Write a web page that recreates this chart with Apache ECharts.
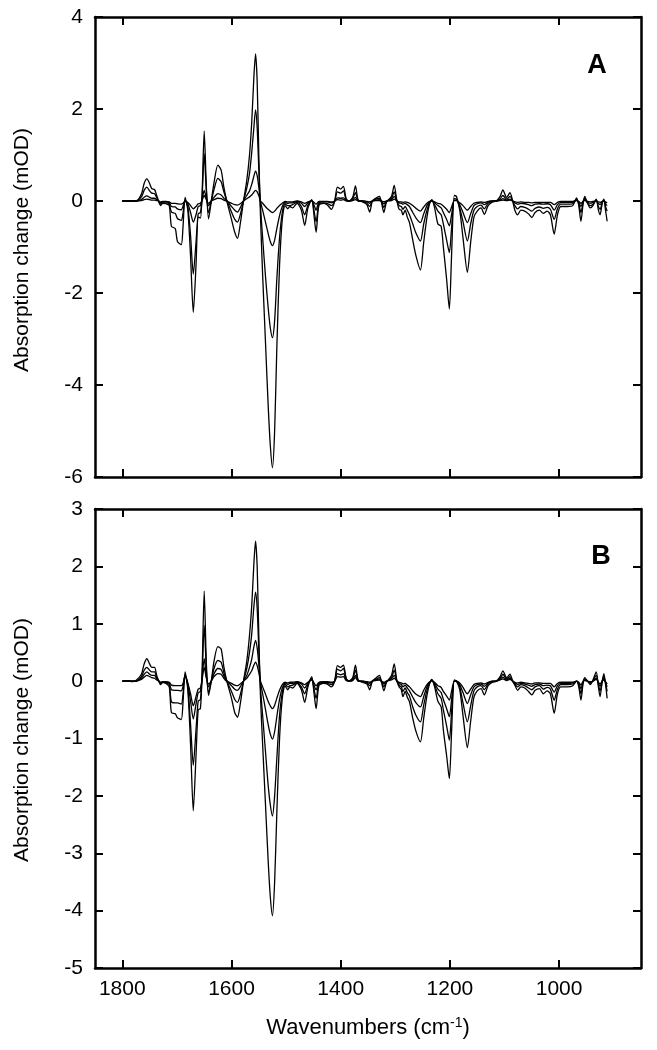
<!DOCTYPE html>
<html><head><meta charset="utf-8">
<script src="https://cdn.jsdelivr.net/npm/echarts@6/dist/echarts.min.js"></script>
<style>html,body{margin:0;padding:0;background:#fff}#c{width:657px;height:1050px}</style>
</head><body><div id="c"></div>
<script>
// ---- data ----
const wavenumbers = [
1800,1790,1782,1775,1765,1760,1755,1750,1746,1741,
1737,1733,1730,1726,1720,1714,1710,1703,1699,1692,
1689,1685,1680,1675,1670,1665,1661,1657,1654,1650,
1646,1642,1637,1632,1625,1619,1614,1609,1600,1594,
1589,1584,1578,1572,1567,1563,1559,1556,1553,1550,
1547,1543,1538,1533,1529,1525,1521,1517,1512,1507,
1502,1497,1493,1488,1480,1472,1466,1460,1453,1449,
1445,1440,1432,1425,1417,1411,1406,1400,1395,1390,
1385,1378,1373,1368,1360,1352,1347,1342,1336,1329,
1325,1321,1316,1307,1302,1297,1293,1289,1286,1282,
1278,1274,1268,1262,1254,1248,1242,1237,1233,1228,
1222,1216,1212,1206,1201,1197,1192,1188,1182,1176,
1168,1162,1156,1150,1143,1137,1130,1122,1115,1108,
1103,1096,1090,1085,1081,1076,1070,1063,1056,1050,
1044,1036,1029,1022,1016,1009,1003,997,985,975,
968,964,960,956,953,948,943,938,932,928,
925,921,918,915,912];

const panelA_1 = [
0,0,0,0,0.15,0.38,0.48,0.38,0.27,0.25,
0.12,-0.02,-0.1,-0.05,-0.06,-0.1,-0.55,-0.6,-0.88,-0.95,
-0.6,0.08,-0.2,-1.2,-2.42,-1.4,-0.35,-0.37,0.1,1.52,
0.3,-0.39,0,0.4,0.78,0.67,0.3,0.02,-0.4,-0.68,
-0.81,-0.5,0,0.45,1.0,1.7,2.7,3.2,2.6,1.0,
-0.3,-1.6,-3.0,-4.4,-5.3,-5.8,-5.0,-3.2,-1.4,-0.4,
-0.1,-0.17,-0.12,-0.15,-0.05,-0.2,-0.53,-0.15,0.03,-0.3,
-0.68,-0.1,-0.05,-0.08,-0.18,0,0.3,0.26,0.32,0.05,
0,0.08,0.33,0.02,-0.02,-0.08,-0.24,0,0.06,0.1,
-0.05,-0.25,-0.02,0.1,0.34,0,-0.18,-0.2,-0.3,-0.2,
-0.35,-0.47,-0.85,-1.2,-1.5,-0.9,-0.35,-0.05,0.03,-0.15,
-0.5,-0.55,-1.0,-1.7,-2.35,-1.2,0.12,0.1,-0.2,-0.8,
-1.55,-0.9,-0.35,-0.22,-0.15,-0.29,-0.1,-0.02,0,0.1,
0.24,0.08,0.18,0,-0.2,-0.3,-0.2,-0.22,-0.28,-0.36,
-0.25,-0.2,-0.27,-0.22,-0.3,-0.72,-0.3,-0.12,-0.12,-0.1,
0.07,-0.1,-0.44,-0.05,0.1,-0.05,-0.15,-0.1,0.04,-0.2,
-0.3,-0.05,0.04,-0.2,-0.44];

const panelA_2 = [
0,0,0,0,0.09,0.23,0.30,0.22,0.17,0.16,
0.07,-0.02,-0.07,-0.04,-0.04,-0.07,-0.24,-0.27,-0.38,-0.42,
-0.28,0.02,-0.12,-0.75,-1.59,-0.9,-0.28,-0.25,0.05,1.03,
0.2,-0.25,0,0.25,0.49,0.42,0.2,0.02,-0.24,-0.4,
-0.46,-0.3,0,0.28,0.6,1.05,1.6,1.98,1.6,0.7,
-0.1,-0.8,-1.6,-2.3,-2.75,-2.97,-2.6,-1.7,-0.8,-0.25,
-0.06,-0.1,-0.1,-0.08,-0.03,-0.12,-0.3,-0.09,0.02,-0.2,
-0.45,-0.07,-0.04,-0.05,-0.1,0,0.2,0.17,0.22,0.03,
0,0.05,0.18,0.01,-0.01,-0.05,-0.12,0,0.04,0.06,
-0.03,-0.14,-0.01,0.06,0.2,0,-0.1,-0.12,-0.18,-0.12,
-0.2,-0.3,-0.5,-0.7,-0.87,-0.5,-0.2,-0.03,0.02,-0.08,
-0.22,-0.3,-0.5,-0.85,-1.12,-0.6,0.05,0.04,-0.15,-0.45,
-0.87,-0.5,-0.2,-0.12,-0.09,-0.17,-0.05,-0.01,0,0.05,
0.12,0.04,0.1,0,-0.1,-0.17,-0.12,-0.14,-0.18,-0.22,
-0.16,-0.13,-0.16,-0.14,-0.18,-0.4,-0.17,-0.07,-0.07,-0.06,
0.04,-0.06,-0.25,-0.03,0.06,-0.04,-0.1,-0.07,0.02,-0.12,
-0.18,-0.04,0.02,-0.12,-0.22];

const panelA_3 = [
0,0,0,0,0.03,0.08,0.11,0.08,0.06,0.06,
0.03,0,-0.04,-0.02,-0.02,-0.04,-0.12,-0.13,-0.17,-0.19,
-0.12,0,-0.06,-0.25,-0.46,-0.3,-0.12,-0.1,0.02,0.23,
0.05,-0.1,0,0.08,0.16,0.13,0.06,0.01,-0.12,-0.2,
-0.24,-0.15,0,0.12,0.22,0.36,0.54,0.65,0.55,0.3,
0,-0.2,-0.45,-0.7,-0.88,-0.97,-0.85,-0.6,-0.32,-0.12,
-0.03,-0.05,-0.04,-0.04,-0.01,-0.05,-0.12,-0.04,0.01,-0.08,
-0.2,-0.03,-0.02,-0.02,-0.04,0,0.07,0.06,0.07,0.01,
0,0.02,0.08,0,0,-0.02,-0.05,0,0.02,0.03,
-0.01,-0.06,0,0.03,0.1,0,-0.04,-0.05,-0.07,-0.05,
-0.08,-0.12,-0.25,-0.37,-0.47,-0.28,-0.1,-0.02,0.01,-0.04,
-0.1,-0.15,-0.25,-0.4,-0.54,-0.3,0.02,0.02,-0.08,-0.25,
-0.47,-0.28,-0.1,-0.06,-0.04,-0.08,-0.02,0,0,0.02,
0.05,0.02,0.04,0,-0.04,-0.07,-0.05,-0.06,-0.08,-0.1,
-0.07,-0.06,-0.07,-0.06,-0.08,-0.2,-0.08,-0.03,-0.03,-0.03,
0.02,-0.03,-0.12,-0.01,0.03,-0.02,-0.05,-0.03,0.01,-0.05,
-0.08,-0.02,0.01,-0.06,-0.1];

const panelA_4 = [
0,0,0,0,0.01,0.03,0.04,0.03,0.02,0.02,
0.01,0,-0.02,-0.01,-0.01,-0.02,-0.05,-0.05,-0.06,-0.07,
-0.05,0,-0.03,-0.1,-0.17,-0.12,-0.06,-0.05,0.01,0.12,
0.03,-0.05,0,0.03,0.06,0.05,0.02,0,-0.05,-0.08,
-0.09,-0.06,0,0.05,0.09,0.13,0.19,0.23,0.2,0.12,
0,-0.05,-0.12,-0.18,-0.22,-0.25,-0.22,-0.16,-0.1,-0.05,
-0.01,-0.02,-0.02,-0.02,0,-0.02,-0.05,-0.02,0,-0.03,
-0.07,-0.01,-0.01,-0.01,-0.02,0,0.03,0.02,0.03,0,
0,0.01,0.03,0,0,-0.01,-0.02,0,0.01,0.01,
0,-0.02,0,0.01,0.04,0,-0.02,-0.02,-0.03,-0.02,
-0.03,-0.05,-0.1,-0.16,-0.22,-0.13,-0.05,-0.01,0,-0.02,
-0.05,-0.07,-0.11,-0.18,-0.25,-0.13,0.01,0.01,-0.04,-0.1,
-0.2,-0.12,-0.05,-0.03,-0.02,-0.03,-0.01,0,0,0.01,
0.02,0.01,0.02,0,-0.02,-0.03,-0.02,-0.03,-0.03,-0.04,
-0.03,-0.03,-0.03,-0.03,-0.03,-0.08,-0.03,-0.01,-0.01,-0.01,
0.01,-0.01,-0.05,0,0.01,-0.01,-0.02,-0.01,0,-0.02,
-0.03,-0.01,0,-0.02,-0.04];

const panelB_1 = [
0,0.01,-0.01,0.01,0.12,0.3,0.39,0.3,0.24,0.24,
0.1,0,-0.06,-0.02,-0.04,-0.1,-0.55,-0.57,-0.64,-0.67,
-0.4,0.16,-0.15,-1.1,-2.26,-1.3,-0.5,-0.48,0.1,1.57,
0.3,-0.25,0,0.35,0.6,0.56,0.25,0.02,-0.3,-0.55,
-0.63,-0.4,0,0.35,0.8,1.3,2.05,2.44,2.0,0.8,
-0.25,-1.1,-2.1,-3.1,-3.75,-4.09,-3.5,-2.3,-1.0,-0.3,
-0.08,-0.15,-0.1,-0.12,-0.04,-0.15,-0.37,-0.1,0.08,-0.2,
-0.48,-0.08,-0.04,-0.05,-0.1,0,0.27,0.24,0.28,0.05,
0,0.06,0.28,0.02,-0.02,-0.05,-0.15,0,0.05,0.1,
-0.03,-0.17,-0.02,0.1,0.3,0,-0.1,-0.15,-0.27,-0.18,
-0.28,-0.36,-0.65,-0.88,-1.06,-0.65,-0.25,-0.04,0.03,-0.1,
-0.35,-0.45,-0.85,-1.3,-1.7,-0.9,0.02,0,-0.15,-0.6,
-1.16,-0.7,-0.28,-0.17,-0.13,-0.24,-0.08,-0.02,0,0.08,
0.18,0.06,0.12,0,-0.07,-0.16,-0.1,-0.12,-0.18,-0.24,
-0.16,-0.13,-0.22,-0.17,-0.22,-0.56,-0.22,-0.1,-0.1,-0.08,
0,-0.1,-0.33,-0.03,0.06,0,-0.06,0.02,0.16,-0.1,
-0.27,0,0.13,-0.05,-0.3];

const panelB_2 = [
0,0.01,0,0,0.08,0.19,0.24,0.19,0.16,0.16,
0.06,0,-0.05,-0.02,-0.03,-0.06,-0.36,-0.38,-0.38,-0.4,
-0.25,0.11,-0.1,-0.75,-1.47,-0.85,-0.35,-0.32,0.05,0.97,
0.2,-0.2,0,0.22,0.36,0.33,0.15,0.01,-0.18,-0.32,
-0.37,-0.24,0,0.22,0.5,0.82,1.3,1.55,1.27,0.55,
-0.1,-0.6,-1.2,-1.8,-2.15,-2.35,-2.0,-1.35,-0.6,-0.2,
-0.05,-0.1,-0.08,-0.07,-0.03,-0.1,-0.22,-0.06,0.05,-0.13,
-0.3,-0.05,-0.03,-0.04,-0.06,0,0.21,0.18,0.22,0.04,
0,0.04,0.19,0.01,-0.01,-0.03,-0.08,0,0.03,0.06,
-0.02,-0.1,-0.01,0.06,0.19,0,-0.07,-0.1,-0.18,-0.12,
-0.2,-0.26,-0.45,-0.6,-0.71,-0.42,-0.16,-0.03,0.02,-0.07,
-0.22,-0.3,-0.5,-0.78,-1.03,-0.55,0.01,0,-0.1,-0.38,
-0.71,-0.43,-0.17,-0.1,-0.08,-0.15,-0.05,-0.01,0,0.05,
0.12,0.04,0.08,0,-0.05,-0.1,-0.06,-0.08,-0.12,-0.15,
-0.1,-0.08,-0.14,-0.11,-0.14,-0.33,-0.14,-0.06,-0.06,-0.05,
0,-0.06,-0.22,-0.02,0.04,0,-0.04,0.01,0.1,-0.06,
-0.17,0,0.08,-0.03,-0.18];

const panelB_3 = [
0,0,0,0,0.05,0.12,0.16,0.12,0.1,0.1,
0.04,0,-0.03,-0.01,-0.02,-0.04,-0.15,-0.16,-0.16,-0.17,
-0.1,0.1,-0.05,-0.35,-0.66,-0.4,-0.2,-0.18,0.03,0.39,
0.08,-0.1,0,0.13,0.22,0.2,0.09,0.01,-0.08,-0.14,
-0.16,-0.1,0,0.1,0.24,0.38,0.6,0.71,0.58,0.3,
-0.02,-0.22,-0.48,-0.75,-0.92,-1.01,-0.88,-0.62,-0.32,-0.12,
-0.03,-0.06,-0.04,-0.04,-0.02,-0.05,-0.12,-0.03,0.03,-0.07,
-0.15,-0.03,-0.02,-0.02,-0.03,0,0.13,0.11,0.13,0.02,
0,0.02,0.1,0,0,-0.02,-0.04,0,0.02,0.04,
-0.01,-0.05,0,0.04,0.1,0,-0.04,-0.06,-0.1,-0.07,
-0.12,-0.17,-0.28,-0.38,-0.45,-0.27,-0.1,-0.02,0.01,-0.04,
-0.14,-0.2,-0.32,-0.48,-0.62,-0.33,0,0,-0.06,-0.2,
-0.39,-0.24,-0.1,-0.06,-0.05,-0.09,-0.03,0,0,0.03,
0.07,0.02,0.05,0,-0.03,-0.06,-0.04,-0.05,-0.07,-0.09,
-0.06,-0.05,-0.08,-0.07,-0.08,-0.19,-0.08,-0.04,-0.04,-0.03,
0,-0.04,-0.13,-0.01,0.02,0,-0.02,0,0.05,-0.03,
-0.09,0,0.04,-0.02,-0.1];

const panelB_4 = [
0,0,0,0,0.03,0.07,0.1,0.08,0.06,0.05,
0.02,0,-0.02,-0.01,-0.01,-0.02,-0.07,-0.08,-0.08,-0.08,
-0.05,0.09,-0.03,-0.22,-0.43,-0.27,-0.14,-0.12,0.02,0.24,
0.05,-0.05,0,0.08,0.13,0.12,0.05,0,-0.04,-0.07,
-0.08,-0.05,0,0.05,0.12,0.18,0.28,0.33,0.27,0.15,
0,-0.1,-0.22,-0.35,-0.43,-0.48,-0.42,-0.3,-0.16,-0.06,
-0.02,-0.03,-0.02,-0.02,-0.01,-0.03,-0.06,-0.02,0.02,-0.03,
-0.08,-0.02,-0.01,-0.01,-0.02,0,0.08,0.07,0.08,0.01,
0,0.01,0.06,0,0,-0.01,-0.02,0,0.01,0.02,
0,-0.02,0,0.02,0.05,0,-0.02,-0.03,-0.05,-0.04,
-0.07,-0.1,-0.17,-0.23,-0.27,-0.16,-0.06,-0.01,0,-0.02,
-0.08,-0.11,-0.18,-0.26,-0.33,-0.18,0,0,-0.03,-0.11,
-0.22,-0.14,-0.06,-0.04,-0.03,-0.05,-0.02,0,0,0.02,
0.04,0.01,0.03,0,-0.02,-0.03,-0.02,-0.03,-0.04,-0.05,
-0.03,-0.03,-0.04,-0.04,-0.04,-0.1,-0.04,-0.02,-0.02,-0.02,
0,-0.02,-0.07,0,0.01,0,-0.01,0,0.03,-0.02,
-0.05,0,0.02,-0.01,-0.05];

const xTickValues = [1800, 1600, 1400, 1200, 1000];
const yRangeA = [-6, 4, 2];   // min, max, step
const yRangeB = [-5, 3, 1];
const panelLabels = ['A', 'B'];
const yTitle = 'Absorption change (mOD)';

// ---- chart ----
const FONT = "'Liberation Sans', Arial, sans-serif";
const chart = echarts.init(document.getElementById('c'), null, {renderer: 'canvas'});
const L = 95, R = 16;
const grids = [
  {left: L, right: R, top: 17, height: 460},
  {left: L, right: R, top: 509, height: 459}
];
const lineStyle = {color: '#000', width: 2.5};
function xAxis(g, pos, showLabel) {
  return {
    type: 'value', gridIndex: g, position: pos, min: 850, max: 1850, inverse: true,
    axisLine: {show: true, onZero: false, lineStyle},
    axisTick: {show: true, inside: true, length: 8, lineStyle: {color: '#000', width: 2}, customValues: xTickValues},
    axisLabel: {show: showLabel, customValues: xTickValues, color: '#000', fontSize: 21, fontFamily: FONT, margin: 11,
                formatter: v => String(v)},
    splitLine: {show: false}
  };
}
function yAxis(g, pos, rng, showLabel) {
  return {
    type: 'value', gridIndex: g, position: pos, min: rng[0], max: rng[1], interval: rng[2],
    axisLine: {show: true, onZero: false, lineStyle},
    axisTick: {show: true, inside: true, length: 8, lineStyle: {color: '#000', width: 2}},
    axisLabel: {show: showLabel, color: '#000', fontSize: 21, fontFamily: FONT, margin: 12,
                formatter: v => String(v)},
    splitLine: {show: false}
  };
}
const seriesData = [
  [0, panelA_1], [0, panelA_2], [0, panelA_3], [0, panelA_4],
  [1, panelB_1], [1, panelB_2], [1, panelB_3], [1, panelB_4]
];
const series = seriesData.map(([g, arr]) => ({
  type: 'line', xAxisIndex: g * 2, yAxisIndex: g * 2,
  data: wavenumbers.map((w, i) => [w, arr[i]]),
  symbol: 'none', smooth: 0.25, clip: true,
  lineStyle: {color: '#000', width: 1.3}
}));

chart.setOption({
  animation: false,
  backgroundColor: '#fff',
  grid: grids,
  xAxis: [xAxis(0, 'bottom', false), xAxis(0, 'top', false), xAxis(1, 'bottom', true), xAxis(1, 'top', false)],
  yAxis: [yAxis(0, 'left', yRangeA, true), yAxis(0, 'right', yRangeA, false), yAxis(1, 'left', yRangeB, true), yAxis(1, 'right', yRangeB, false)],
  series,
  graphic: [
    {type: 'text', x: 22, y: 250, rotation: Math.PI / 2,
     style: {text: yTitle, fontSize: 21, fontFamily: FONT, fill: '#000', textAlign: 'center', textVerticalAlign: 'middle'}},
    {type: 'text', x: 22, y: 740, rotation: Math.PI / 2,
     style: {text: yTitle, fontSize: 21, fontFamily: FONT, fill: '#000', textAlign: 'center', textVerticalAlign: 'middle'}},
    {type: 'text', x: 597, y: 66,
     style: {text: panelLabels[0], fontSize: 27, fontWeight: 'bold', fontFamily: FONT, fill: '#000', textAlign: 'center', textVerticalAlign: 'middle'}},
    {type: 'text', x: 601, y: 557,
     style: {text: panelLabels[1], fontSize: 27, fontWeight: 'bold', fontFamily: FONT, fill: '#000', textAlign: 'center', textVerticalAlign: 'middle'}},
    {type: 'text', x: 368, y: 1028,
     style: {rich: {a: {fontSize: 22, fontFamily: FONT, fill: '#000'}, s: {fontSize: 14, fontFamily: FONT, fill: '#000', verticalAlign: 'top', padding: [0, 0, 10, 0]}},
             text: '{a|Wavenumbers (cm}{s|-1}{a|)}', textAlign: 'center', textVerticalAlign: 'middle'}}
  ]
});
</script></body></html>
